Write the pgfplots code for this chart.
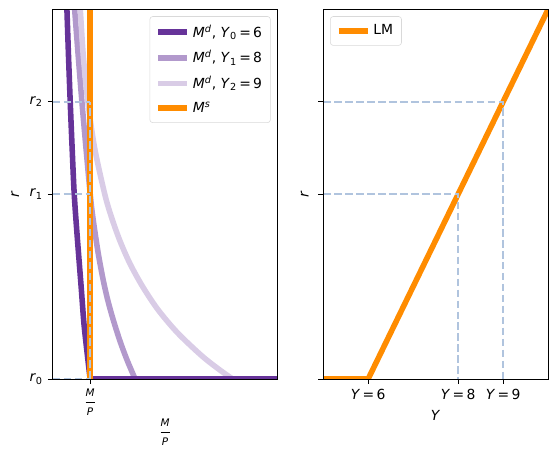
\documentclass[border=0pt]{standalone}
\usepackage{fontspec}
\setmainfont{DejaVu Sans}
\usepackage{amsmath}
\usepackage{pgfplots}
\pgfplotsset{compat=1.18}
\definecolor{mdA}{RGB}{102,51,153}
\definecolor{mdB}{RGB}{178,153,204}
\definecolor{mdC}{RGB}{217,204,230}
\definecolor{msO}{RGB}{255,140,0}
\definecolor{dsh}{RGB}{176,196,222}
\newcommand{\MP}{$\dfrac{\mbox{\fontsize{7.5}{8}\selectfont\itshape M}}{\mbox{\fontsize{7.5}{8}\selectfont\itshape P}}$}
\begin{document}
\begin{tikzpicture}
\useasboundingbox (-37.9pt,-54pt) rectangle (363.9pt,272.9pt);
\pgfplotsset{every axis/.append style={
  scale only axis, width=162pt, height=266.2pt,
  axis on top, tick align=outside, major tick length=3.5pt,
  xtick pos=bottom, ytick pos=left,
  tick style={black, line width=0.6pt}, axis line style={line width=0.6pt},
  ymin=0, ymax=4,
  font=\fontsize{10}{12}\selectfont,
  legend cell align=left,
  legend style={draw=black!15, rounded corners=2pt, fill=white, fill opacity=0.8, text opacity=1,
    font=\fontsize{10}{12}\selectfont, row sep=4pt, inner sep=4pt},
  legend image code/.code={\draw[#1] (0pt,0pt) -- (21pt,0pt);},
}}
\begin{axis}[
  at={(0,0)}, anchor=south west,
  xmin=0, xmax=6,
  xtick={1}, xticklabels={\MP},
  ytick={0,2,3}, yticklabels={\textit{r}\textsubscript{0},\textit{r}\textsubscript{1},\textit{r}\textsubscript{2}},
  xlabel={\MP}, ylabel={\textit{r}},
  xlabel style={at={(axis description cs:0.5,-0.1435)}, anchor=center},
  ylabel style={at={(axis description cs:-0.1667,0.5)}, anchor=center},
  legend style={at={(axis description cs:1,1)}, anchor=north east, xshift=-5pt, yshift=-5pt},
]
\addplot[mdA, line width=4pt, smooth] coordinates {(0.34,4.5)(0.381,4.0)(0.423,3.5)(0.469,3.0)(0.52,2.5)(0.576,2.0)(0.656,1.54)(0.76,1.0)(0.835,0.6)(0.915,0.3)(1.0,0)};
\addlegendentry{\textit{M}\textsuperscript{\textit{d}}, \textit{Y}\textsubscript{0}\,=\,6}
\addplot[mdB, line width=4pt, smooth] coordinates {(0.50,4.5)(0.587,4.0)(0.781,3.0)(1.0,2.01)(1.083,1.72)(1.216,1.36)(1.349,1.07)(1.46,0.87)(1.573,0.70)(1.70,0.53)(1.84,0.36)(2.0,0.19)(2.2,0)};
\addlegendentry{\textit{M}\textsuperscript{\textit{d}}, \textit{Y}\textsubscript{1}\,=\,8}
\addplot[mdC, line width=4pt, smooth] coordinates {(0.64,4.5)(0.736,4.0)(0.817,3.5)(0.94,3.0)(1.12,2.5)(1.39,2.0)(1.57,1.75)(1.79,1.5)(2.06,1.25)(2.40,1.0)(2.81,0.75)(3.33,0.5)(3.98,0.25)(4.45,0.1)(4.8,0)};
\addlegendentry{\textit{M}\textsuperscript{\textit{d}}, \textit{Y}\textsubscript{2}\,=\,9}
\addplot[mdA, line width=4pt, forget plot] coordinates {(1,0)(6.2,0)};
\addplot[msO, line width=4pt] coordinates {(1,0)(1,4.5)};
\addlegendentry{\textit{M}\textsuperscript{\textit{s}}}
\addplot[dsh, line width=1.5pt, dash pattern=on 5.5pt off 2.4pt, forget plot] coordinates {(0,0)(1,0)};
\addplot[dsh, line width=1.5pt, dash pattern=on 5.5pt off 2.4pt, forget plot] coordinates {(0,2)(1,2)};
\addplot[dsh, line width=1.5pt, dash pattern=on 5.5pt off 2.4pt, forget plot] coordinates {(0,3)(1,3)};
\addplot[dsh, line width=1.5pt, dash pattern=on 5.5pt off 2.4pt, forget plot] coordinates {(1,0)(1,3)};
\end{axis}
\begin{axis}[
  at={(194.8pt,0)}, anchor=south west,
  xmin=5, xmax=10,
  xtick={6,8,9}, xticklabels={\textit{Y}\,=\,6,\textit{Y}\,=\,8,\textit{Y}\,=\,9},
  ytick={0,2,3}, yticklabels={},
  xlabel={\textit{Y}}, ylabel={\textit{r}},
  xlabel style={at={(axis description cs:0.5,-0.0973)}, anchor=center},
  ylabel style={at={(axis description cs:-0.0815,0.5)}, anchor=center},
  legend style={at={(axis description cs:0,1)}, anchor=north west, xshift=5pt, yshift=-5pt},
]
\addplot[msO, line width=4pt] coordinates {(4.9,0)(6,0)(10.1,4.1)};
\addlegendentry{LM}
\addplot[dsh, line width=1.5pt, dash pattern=on 5.5pt off 2.4pt, forget plot] coordinates {(5,2)(8,2)(8,0)};
\addplot[dsh, line width=1.5pt, dash pattern=on 5.5pt off 2.4pt, forget plot] coordinates {(5,3)(9,3)(9,0)};
\end{axis}
\end{tikzpicture}
\end{document}
